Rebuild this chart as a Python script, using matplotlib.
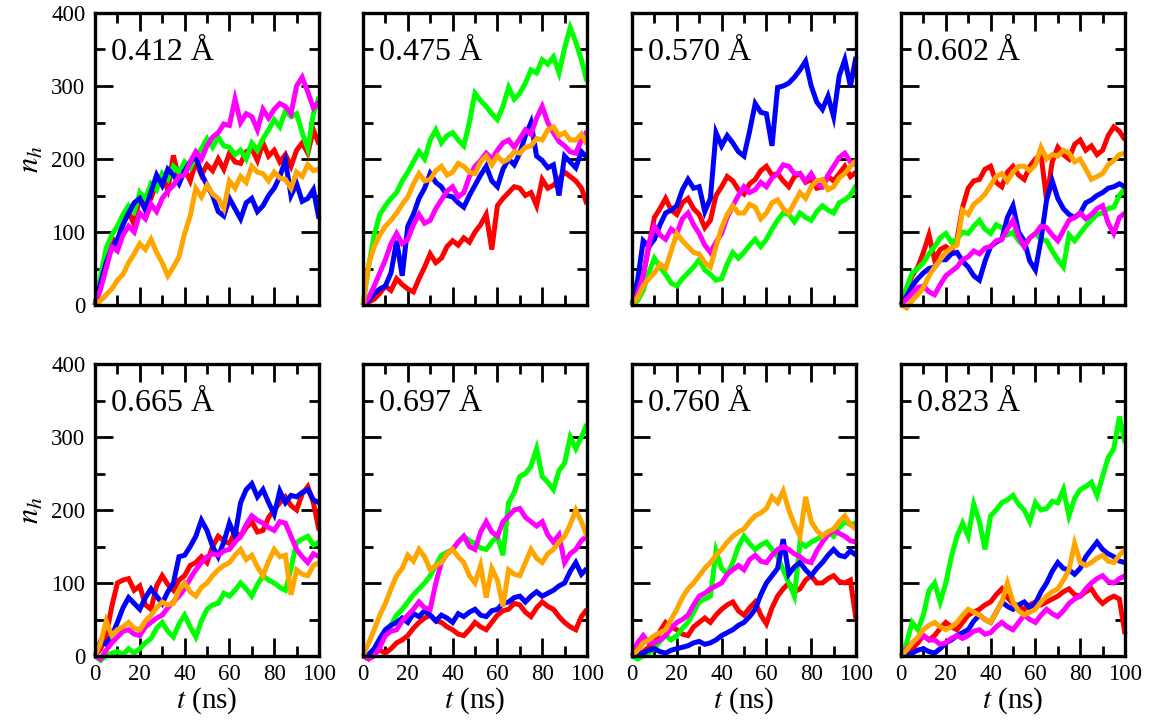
import numpy as np
import matplotlib
matplotlib.use("Agg")
import matplotlib.pyplot as plt
from matplotlib.ticker import MultipleLocator

plt.rcParams['font.family'] = ['Liberation Serif', 'DejaVu Serif']
plt.rcParams['mathtext.fontset'] = 'stix'

# time axis (ns)
t = np.arange(0, 100.01, 2.5)

panel_labels = ["0.412 Å", "0.475 Å", "0.570 Å", "0.602 Å",
                "0.665 Å", "0.697 Å", "0.760 Å", "0.823 Å"]
series_colors = ["#FF0000", "#00FF00", "#0000FF", "#FF00FF", "#FFA500"]
x_ticks = [0, 20, 40, 60, 80, 100]
y_ticks = [0, 100, 200, 300, 400]

# ---- 0.412 A ----
red_412 = [0, 35, 62, 92, 84, 112, 128, 110, 150, 132, 146, 168, 176, 158, 205, 172, 186, 170, 196, 178, 192, 184, 200, 186, 208, 196, 194, 210, 214, 198, 222, 204, 212, 196, 206, 190, 212, 222, 208, 240, 220]
green_412 = [0, 40, 78, 96, 108, 124, 136, 128, 154, 146, 166, 158, 180, 172, 190, 182, 196, 188, 204, 214, 228, 216, 230, 218, 216, 206, 212, 200, 222, 212, 228, 240, 254, 244, 266, 258, 262, 236, 214, 262, 285]
blue_412 = [0, 30, 58, 78, 90, 110, 126, 140, 146, 130, 155, 178, 164, 186, 178, 166, 184, 196, 204, 180, 164, 150, 128, 122, 146, 132, 118, 140, 146, 128, 136, 150, 160, 176, 198, 150, 166, 142, 146, 158, 118]
magenta_412 = [0, 22, 50, 80, 74, 96, 108, 100, 126, 118, 138, 128, 146, 156, 164, 176, 178, 196, 210, 200, 218, 230, 236, 248, 246, 282, 250, 262, 258, 240, 268, 256, 268, 276, 272, 262, 300, 312, 292, 270, 278]
orange_412 = [0, 6, 14, 22, 34, 42, 58, 70, 84, 76, 90, 72, 58, 40, 52, 66, 98, 122, 160, 148, 164, 152, 146, 132, 170, 160, 176, 168, 190, 182, 180, 170, 182, 174, 172, 160, 182, 176, 192, 184, 186]

# ---- 0.475 A ----
red_475 = [0, 4, 8, 16, 26, 20, 36, 28, 22, 18, 36, 52, 70, 58, 64, 80, 88, 82, 92, 86, 100, 110, 124, 76, 136, 146, 154, 162, 160, 150, 154, 136, 172, 160, 164, 172, 182, 176, 170, 160, 138]
green_475 = [0, 52, 96, 124, 136, 146, 154, 170, 182, 196, 210, 200, 226, 240, 222, 232, 236, 226, 218, 250, 290, 280, 272, 262, 254, 272, 298, 282, 290, 304, 322, 318, 336, 330, 340, 318, 352, 380, 360, 336, 306]
blue_475 = [0, 6, 16, 22, 26, 44, 88, 40, 108, 124, 146, 160, 180, 168, 162, 150, 148, 140, 134, 150, 164, 178, 190, 170, 162, 186, 200, 192, 208, 232, 250, 204, 198, 188, 192, 150, 204, 196, 188, 210, 202]
magenta_475 = [0, 10, 26, 44, 62, 84, 98, 84, 90, 110, 124, 112, 116, 132, 144, 156, 162, 148, 154, 176, 190, 198, 208, 200, 212, 222, 226, 216, 228, 240, 234, 256, 272, 250, 236, 224, 218, 210, 208, 226, 238]
orange_475 = [0, 56, 80, 96, 108, 116, 126, 138, 148, 166, 180, 170, 172, 184, 190, 178, 182, 194, 190, 182, 180, 196, 204, 192, 204, 196, 200, 210, 208, 216, 218, 228, 226, 240, 244, 232, 236, 226, 226, 234, 220]

# ---- 0.570 A ----
red_570 = [0, 16, 40, 80, 120, 132, 146, 130, 124, 140, 146, 132, 124, 106, 116, 150, 162, 176, 170, 158, 152, 166, 172, 184, 190, 178, 180, 170, 162, 176, 180, 168, 172, 160, 162, 176, 170, 180, 190, 176, 182]
green_570 = [0, 6, 20, 44, 64, 52, 42, 30, 26, 36, 44, 52, 62, 48, 42, 34, 36, 56, 72, 64, 72, 82, 90, 80, 90, 104, 116, 126, 124, 114, 126, 120, 116, 128, 136, 130, 126, 140, 144, 150, 164]
blue_570 = [0, 34, 88, 80, 90, 110, 126, 130, 136, 158, 172, 160, 162, 128, 146, 236, 218, 232, 222, 210, 204, 238, 276, 264, 262, 218, 298, 300, 304, 312, 322, 334, 300, 278, 268, 286, 258, 314, 336, 300, 340]
magenta_570 = [0, 16, 40, 84, 108, 96, 90, 104, 98, 118, 126, 110, 98, 82, 72, 86, 98, 120, 136, 150, 162, 154, 158, 168, 162, 174, 180, 192, 190, 180, 180, 170, 180, 166, 162, 178, 190, 202, 208, 196, 192]
orange_570 = [0, 10, 26, 36, 44, 56, 50, 74, 98, 88, 80, 72, 70, 58, 52, 80, 106, 124, 136, 126, 126, 138, 134, 118, 126, 140, 144, 132, 126, 140, 154, 146, 162, 170, 172, 158, 162, 174, 180, 190, 198]

# ---- 0.602 A ----
red_602 = [0, 20, 40, 52, 72, 96, 62, 76, 80, 74, 90, 134, 160, 170, 172, 186, 190, 168, 162, 182, 190, 178, 172, 190, 200, 206, 144, 196, 216, 206, 200, 220, 226, 212, 218, 206, 212, 232, 244, 238, 226]
green_602 = [0, 24, 44, 50, 58, 70, 80, 92, 98, 86, 90, 100, 98, 108, 116, 104, 98, 110, 106, 96, 100, 88, 80, 92, 98, 90, 88, 74, 62, 52, 96, 88, 98, 108, 116, 124, 126, 132, 134, 150, 160]
blue_602 = [0, 12, 26, 36, 44, 50, 52, 62, 62, 70, 72, 60, 52, 40, 34, 60, 80, 86, 90, 120, 136, 100, 88, 60, 48, 90, 144, 170, 146, 132, 124, 120, 126, 140, 144, 150, 154, 160, 162, 166, 162]
magenta_602 = [0, 8, 16, 24, 26, 18, 14, 28, 40, 46, 52, 62, 66, 74, 70, 78, 80, 88, 90, 104, 116, 94, 80, 92, 98, 108, 106, 96, 88, 102, 116, 120, 126, 118, 124, 132, 136, 112, 98, 120, 126]
orange_602 = [0, -4, 6, 14, 24, 40, 52, 62, 72, 78, 82, 130, 124, 138, 144, 152, 164, 176, 180, 170, 182, 190, 190, 184, 192, 216, 200, 206, 204, 212, 208, 196, 200, 186, 172, 176, 180, 192, 198, 206, 208]

# ---- 0.665 A ----
red_665 = [0, 10, 28, 68, 100, 104, 106, 90, 96, 70, 64, 96, 110, 98, 90, 104, 110, 124, 128, 136, 128, 150, 164, 158, 154, 170, 164, 176, 184, 170, 172, 190, 200, 210, 218, 206, 200, 222, 232, 210, 172]
green_665 = [0, -6, 0, 4, 6, 2, 10, 4, 10, 18, 24, 38, 46, 34, 26, 44, 56, 40, 26, 48, 64, 70, 72, 86, 82, 90, 100, 92, 82, 98, 110, 104, 100, 94, 90, 120, 156, 160, 164, 152, 156]
blue_665 = [0, 20, 16, 28, 46, 66, 80, 72, 64, 80, 92, 82, 72, 88, 100, 136, 138, 150, 164, 186, 172, 150, 136, 156, 182, 164, 210, 228, 236, 218, 228, 210, 194, 226, 210, 220, 218, 224, 228, 214, 210]
magenta_665 = [0, -4, 8, 18, 26, 34, 36, 30, 28, 40, 46, 52, 56, 66, 74, 82, 92, 106, 118, 128, 136, 140, 138, 144, 146, 156, 164, 180, 192, 186, 182, 176, 172, 184, 182, 164, 146, 136, 128, 140, 136]
orange_665 = [0, 18, 48, 28, 36, 40, 46, 38, 36, 48, 56, 66, 74, 70, 72, 90, 100, 88, 82, 94, 100, 110, 118, 124, 128, 138, 146, 132, 138, 122, 110, 130, 146, 136, 138, 84, 118, 112, 110, 124, 128]

# ---- 0.697 A ----
red_697 = [0, -4, 4, 8, 4, 10, 18, 22, 28, 38, 46, 52, 56, 48, 46, 40, 36, 30, 28, 36, 46, 40, 36, 46, 56, 62, 64, 72, 70, 60, 54, 66, 74, 68, 64, 54, 46, 40, 36, 54, 64]
green_697 = [0, 2, 10, 18, 28, 42, 56, 64, 74, 84, 92, 100, 110, 124, 138, 142, 146, 156, 164, 158, 154, 148, 146, 156, 164, 138, 210, 224, 246, 250, 260, 284, 246, 238, 228, 254, 264, 300, 284, 300, 318]
blue_697 = [0, 2, 10, 24, 36, 42, 46, 52, 46, 58, 54, 62, 56, 48, 56, 52, 46, 58, 54, 60, 64, 56, 54, 62, 64, 72, 74, 80, 82, 74, 82, 88, 82, 86, 90, 96, 100, 116, 128, 112, 120]
magenta_697 = [0, -4, 0, 12, 28, 34, 36, 48, 56, 64, 74, 66, 64, 100, 128, 140, 146, 156, 164, 150, 146, 170, 184, 170, 164, 184, 192, 200, 202, 190, 184, 178, 184, 166, 156, 166, 128, 140, 146, 158, 164]
orange_697 = [0, 18, 36, 56, 72, 92, 110, 120, 138, 130, 146, 136, 118, 124, 128, 140, 146, 136, 128, 110, 100, 124, 80, 120, 104, 68, 118, 112, 110, 128, 146, 134, 128, 140, 146, 156, 164, 180, 200, 184, 164]

# ---- 0.760 A ----
red_760 = [0, 2, 6, 12, 18, 34, 46, 40, 36, 30, 28, 40, 46, 52, 46, 56, 64, 70, 74, 62, 56, 66, 74, 56, 44, 66, 82, 92, 100, 88, 92, 104, 110, 100, 100, 106, 110, 102, 100, 104, 50]
green_760 = [0, -4, 0, 4, 10, 20, 28, 22, 28, 38, 46, 60, 74, 78, 82, 144, 120, 112, 128, 150, 164, 154, 146, 152, 156, 146, 136, 118, 100, 82, 156, 150, 156, 160, 164, 170, 164, 176, 184, 180, 182]
blue_760 = [0, 2, 4, 8, 10, 6, 4, 8, 10, 12, 14, 18, 20, 16, 18, 22, 28, 32, 36, 42, 46, 54, 64, 84, 100, 110, 120, 160, 112, 122, 128, 118, 110, 120, 128, 138, 146, 138, 136, 144, 138]
magenta_760 = [0, 18, 28, 18, 18, 22, 28, 38, 46, 50, 56, 70, 82, 86, 92, 96, 100, 112, 118, 124, 118, 132, 138, 130, 128, 138, 146, 150, 146, 140, 136, 130, 128, 144, 156, 166, 172, 168, 164, 158, 156]
orange_760 = [0, 8, 18, 22, 28, 32, 36, 50, 64, 80, 92, 100, 110, 120, 128, 138, 146, 156, 164, 170, 174, 184, 192, 196, 202, 218, 210, 226, 200, 180, 164, 218, 184, 172, 164, 170, 174, 184, 192, 180, 174]

# ---- 0.823 A ----
red_823 = [0, 4, 10, 18, 28, 22, 28, 38, 46, 40, 36, 46, 56, 60, 64, 70, 74, 84, 92, 80, 72, 68, 64, 70, 74, 70, 74, 78, 82, 88, 92, 84, 82, 88, 92, 80, 72, 78, 82, 78, 30]
green_823 = [0, 18, 46, 36, 56, 90, 100, 74, 100, 136, 164, 182, 164, 208, 184, 146, 192, 200, 210, 214, 220, 208, 200, 184, 210, 200, 202, 212, 210, 228, 192, 216, 228, 232, 238, 220, 246, 272, 284, 328, 292]
blue_823 = [0, 2, 4, 8, 10, 6, 4, 10, 18, 22, 28, 32, 36, 48, 56, 50, 46, 60, 74, 68, 64, 70, 74, 66, 72, 88, 100, 116, 128, 120, 118, 112, 120, 136, 146, 156, 146, 140, 136, 130, 128]
magenta_823 = [0, 10, 18, 24, 28, 22, 22, 16, 18, 24, 28, 24, 28, 34, 36, 30, 32, 40, 46, 40, 36, 46, 56, 50, 46, 56, 64, 58, 54, 62, 72, 78, 82, 92, 100, 106, 110, 102, 100, 106, 110]
orange_823 = [0, 8, 18, 26, 36, 42, 46, 40, 36, 40, 46, 56, 64, 60, 56, 50, 46, 60, 74, 100, 74, 62, 56, 60, 64, 74, 82, 88, 92, 104, 118, 154, 128, 124, 128, 134, 138, 130, 128, 138, 146]

panels = [
    [red_412, green_412, blue_412, magenta_412, orange_412],
    [red_475, green_475, blue_475, magenta_475, orange_475],
    [red_570, green_570, blue_570, magenta_570, orange_570],
    [red_602, green_602, blue_602, magenta_602, orange_602],
    [red_665, green_665, blue_665, magenta_665, orange_665],
    [red_697, green_697, blue_697, magenta_697, orange_697],
    [red_760, green_760, blue_760, magenta_760, orange_760],
    [red_823, green_823, blue_823, magenta_823, orange_823],
]

W, H = 1150, 728
fig = plt.figure(figsize=(W / 100, H / 100), dpi=100)

lefts = [95, 363, 632, 901]
tops = [13, 364]
aw, ah = 224, 292

for i, series in enumerate(panels):
    r, c = divmod(i, 4)
    ax = fig.add_axes([lefts[c] / W, 1 - (tops[r] + ah) / H, aw / W, ah / H])
    for ys, col in zip(series, series_colors):
        ax.plot(t, ys, color=col, lw=3.6, clip_on=False,
                solid_joinstyle='miter', solid_capstyle='butt')
    ax.set_xlim(0, 100)
    ax.set_ylim(0, 400)
    ax.set_xticks(x_ticks)
    ax.set_yticks(y_ticks)
    ax.xaxis.set_minor_locator(MultipleLocator(10))
    ax.yaxis.set_minor_locator(MultipleLocator(50))
    ax.tick_params(which='both', direction='in', top=True, right=True, width=2.0)
    ax.tick_params(which='major', length=13)
    ax.tick_params(which='minor', length=7)
    ax.tick_params(axis='both', labelsize=16.5)
    ax.tick_params(axis='y', pad=7)
    ax.tick_params(axis='x', pad=6)
    for sp in ax.spines.values():
        sp.set_linewidth(2.4)
        sp.set_zorder(5)
    if c == 0:
        ax.set_ylabel(r'$n_h$', fontsize=22, labelpad=4)
    else:
        ax.set_yticklabels([])
    if r == 1:
        ax.set_xlabel(r'$t$ (ns)', fontsize=21, labelpad=0)
    else:
        ax.set_xticklabels([])
    ax.text(0.07, 0.84, panel_labels[i], transform=ax.transAxes,
            fontsize=23, va='baseline', ha='left', zorder=6)

fig.savefig("out.png", dpi=100)
